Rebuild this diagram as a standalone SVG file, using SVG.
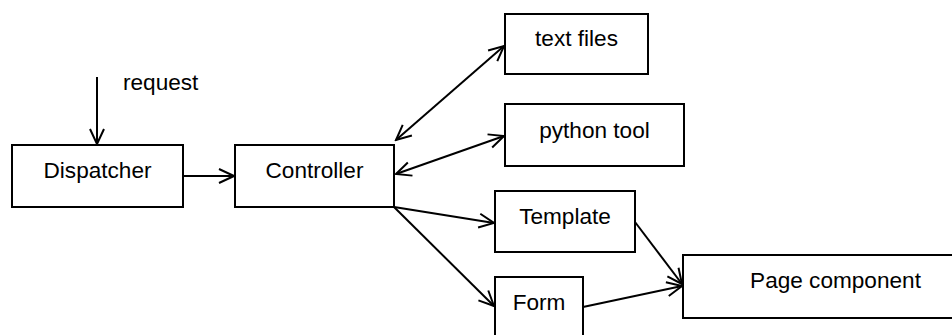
<svg xmlns="http://www.w3.org/2000/svg" width="952" height="335" viewBox="0 0 952 335">
<style>
.box{fill:#fff;stroke:#000;stroke-width:2}
.lbl{font-family:"Liberation Sans",Arial,sans-serif;font-size:22.6px;fill:#000;text-anchor:middle}
.edge{fill:none;stroke:#000;stroke-width:2}
</style>
<defs>
<marker id="arr" viewBox="-17 -9 19 18" markerWidth="19" markerHeight="18" refX="0" refY="0" markerUnits="userSpaceOnUse" orient="auto-start-reverse">
<path d="M-15,-7 L0,0 L-15,7" fill="none" stroke="#000" stroke-width="2"/>
</marker>
</defs>
<rect width="952" height="335" fill="#fff"/>
<g id="connectors">
<line class="edge" x1="97" y1="77" x2="97" y2="144" marker-end="url(#arr)"/>
<line class="edge" x1="183" y1="176" x2="234" y2="176" marker-end="url(#arr)"/>
<line class="edge" x1="396" y1="140" x2="504" y2="46" marker-start="url(#arr)" marker-end="url(#arr)"/>
<line class="edge" x1="396" y1="174" x2="504" y2="136" marker-start="url(#arr)" marker-end="url(#arr)"/>
<line class="edge" x1="394" y1="207" x2="494" y2="223" marker-end="url(#arr)"/>
<line class="edge" x1="394" y1="207" x2="494" y2="306" marker-end="url(#arr)"/>
<line class="edge" x1="635" y1="222" x2="682" y2="284" marker-end="url(#arr)"/>
<line class="edge" x1="583" y1="307" x2="682" y2="286" marker-end="url(#arr)"/>
</g>
<g id="request"><text class="lbl" x="123" y="90" style="text-anchor:start">request</text></g>
<g id="dispatcher"><rect class="box" x="12" y="145" width="171" height="62"/><text class="lbl" x="97.5" y="178">Dispatcher</text></g>
<g id="controller"><rect class="box" x="235" y="145" width="159" height="62"/><text class="lbl" x="314.5" y="178">Controller</text></g>
<g id="textfiles"><rect class="box" x="505" y="14" width="143" height="60"/><text class="lbl" x="576.5" y="46">text files</text></g>
<g id="pythontool"><rect class="box" x="505" y="104" width="179" height="62"/><text class="lbl" x="594.5" y="137.5">python tool</text></g>
<g id="template"><rect class="box" x="495" y="191" width="140" height="61"/><text class="lbl" x="565" y="224">Template</text></g>
<g id="form"><rect class="box" x="495" y="277" width="88" height="62"/><text class="lbl" x="539" y="310">Form</text></g>
<g id="pagecomponent"><rect class="box" x="683" y="255" width="305" height="63"/><text class="lbl" x="835.5" y="288">Page component</text></g>
</svg>
